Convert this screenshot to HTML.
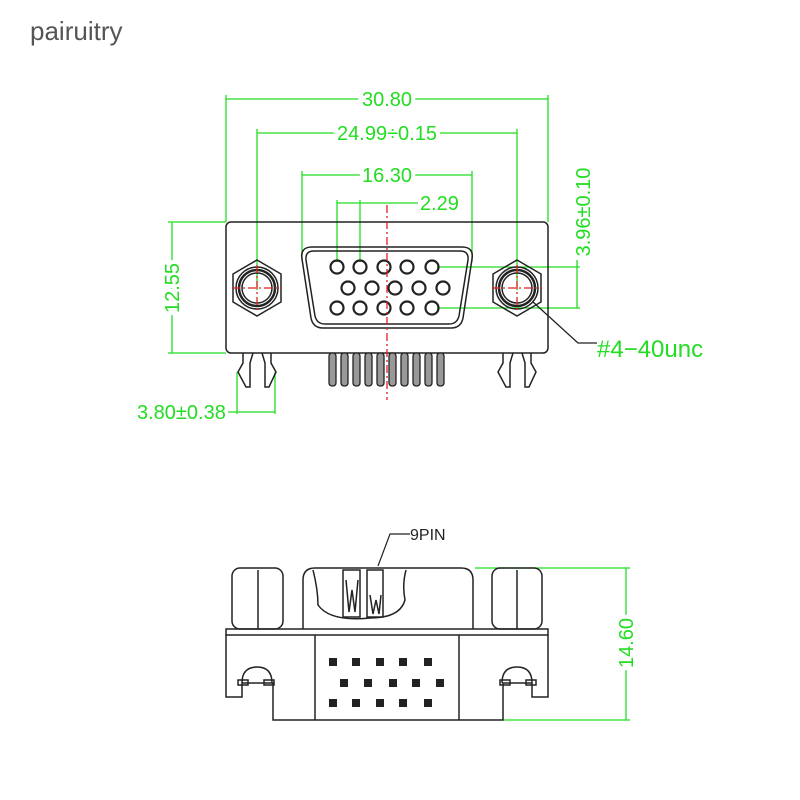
<!DOCTYPE html>
<html><head><meta charset="utf-8"><style>body{margin:0;background:#fff}svg{display:block}</style></head><body>
<svg width="800" height="800" viewBox="0 0 800 800" xmlns="http://www.w3.org/2000/svg" font-family="Liberation Sans, sans-serif">
<rect width="800" height="800" fill="#fff"/>
<text x="30" y="40" font-size="26" fill="#555">pairuitry</text>
<g stroke="#22dd22" stroke-width="1.3" fill="none">
<!-- 30.80 -->
<line x1="226" y1="99" x2="548" y2="99"/><line x1="226" y1="95" x2="226" y2="222"/><line x1="548" y1="95" x2="548" y2="222"/>
<!-- 24.99 -->
<line x1="257" y1="133" x2="517" y2="133"/><line x1="257" y1="129" x2="257" y2="290"/><line x1="517" y1="129" x2="517" y2="290"/>
<!-- 16.30 -->
<line x1="302" y1="175" x2="472" y2="175"/><line x1="302" y1="171" x2="302" y2="260"/><line x1="472" y1="171" x2="472" y2="262"/>
<!-- 2.29 -->
<line x1="337" y1="203" x2="418" y2="203"/><line x1="337" y1="200" x2="337" y2="262"/><line x1="360" y1="200" x2="360" y2="262"/>
<!-- 3.96 -->
<line x1="437" y1="267" x2="580" y2="267"/><line x1="437" y1="308" x2="580" y2="308"/><line x1="577" y1="260" x2="577" y2="308"/>
<!-- 12.55 -->
<line x1="168" y1="222" x2="226" y2="222"/><line x1="168" y1="353" x2="226" y2="353"/><line x1="172" y1="222" x2="172" y2="353"/>
<!-- 3.80 -->
<line x1="237" y1="372" x2="237" y2="414"/><line x1="275" y1="372" x2="275" y2="414"/><line x1="228" y1="412" x2="275" y2="412"/>
<!-- 14.60 -->
<line x1="475" y1="568" x2="630" y2="568"/><line x1="503" y1="720" x2="630" y2="720"/><line x1="626" y1="568" x2="626" y2="720"/>
</g>
<g fill="#22dd22" font-size="20">
<text x="387" y="106" text-anchor="middle" fill="#22dd22" style="paint-order:stroke" stroke="#fff" stroke-width="8">30.80</text>
<text x="387" y="140" text-anchor="middle" stroke="#fff" stroke-width="8" style="paint-order:stroke">24.99÷0.15</text>
<text x="387" y="182" text-anchor="middle" stroke="#fff" stroke-width="8" style="paint-order:stroke">16.30</text>
<text x="420" y="210" stroke="#fff" stroke-width="0">2.29</text>
<text transform="translate(590,212) rotate(-90)" text-anchor="middle" stroke="#fff" stroke-width="8" style="paint-order:stroke">3.96±0.10</text>
<text transform="translate(179,288) rotate(-90)" text-anchor="middle" stroke="#fff" stroke-width="8" style="paint-order:stroke">12.55</text>
<text x="137" y="419">3.80±0.38</text>
<text transform="translate(633,643) rotate(-90)" text-anchor="middle" stroke="#fff" stroke-width="8" style="paint-order:stroke">14.60</text>
<text x="597" y="357" font-size="24">#4−40unc</text>
</g>
<g stroke="#222" stroke-width="1.5" fill="none">
<!-- top view body -->
<rect x="226" y="222" width="322" height="131" rx="5"/>
<path d="M312 247 H462 Q474 247 472 259 L463 318 Q461 328 451 328 H323 Q313 328 311 318 L302 259 Q300 247 312 247Z"/>
<path d="M314 251 H460 Q469 251 468 260 L459 316 Q457 324 449 324 H325 Q317 324 315 316 L306 260 Q305 251 314 251Z"/>
<g stroke-width="2.2">
<circle cx="337" cy="267" r="6.5"/><circle cx="360" cy="267" r="6.5"/><circle cx="384" cy="267" r="6.5"/><circle cx="407" cy="267" r="6.5"/><circle cx="432" cy="267" r="6.5"/>
<circle cx="348" cy="288" r="6.5"/><circle cx="372" cy="288" r="6.5"/><circle cx="395" cy="288" r="6.5"/><circle cx="419" cy="288" r="6.5"/><circle cx="443" cy="288" r="6.5"/>
<circle cx="337" cy="308" r="6.5"/><circle cx="360" cy="308" r="6.5"/><circle cx="384" cy="308" r="6.5"/><circle cx="407" cy="308" r="6.5"/><circle cx="432" cy="308" r="6.5"/>
</g>
<polygon points="257,260 281,274 281,302 257,316 233,302 233,274"/>
<circle cx="257" cy="288" r="21"/><circle cx="257" cy="288" r="18" stroke-width="2.5"/><circle cx="257" cy="288" r="15"/>
<polygon points="517,260 541,274 541,302 517,316 493,302 493,274"/>
<circle cx="517" cy="288" r="21"/><circle cx="517" cy="288" r="18" stroke-width="2.5"/><circle cx="517" cy="288" r="15"/>
<polyline points="533,302 578,343 597,343" stroke-width="1.3"/>
<!-- legs -->
<path d="M243 353 V363 L238 372 L246 387 H250 L250 363 L253 353"/>
<path d="M262 353 L265 363 V387 H269 L276 372 L271 363 V353"/>
<path d="M503 353 V363 L498 372 L506 387 H510 L510 363 L513 353"/>
<path d="M522 353 L525 363 V387 H529 L536 372 L531 363 V353"/>
</g>
<g fill="#999" stroke="#222" stroke-width="1.3">
<rect x="329" y="353" width="7" height="33" rx="3"/><rect x="341" y="353" width="7" height="33" rx="3"/><rect x="353" y="353" width="7" height="33" rx="3"/><rect x="365" y="353" width="7" height="33" rx="3"/><rect x="377" y="353" width="7" height="33" rx="3"/><rect x="389" y="353" width="7" height="33" rx="3"/><rect x="401" y="353" width="7" height="33" rx="3"/><rect x="413" y="353" width="7" height="33" rx="3"/><rect x="425" y="353" width="7" height="33" rx="3"/><rect x="437" y="353" width="7" height="33" rx="3"/>
</g>
<g stroke="#dd2222" stroke-width="1.3" stroke-dasharray="8,3,2,3" fill="none">
<line x1="387" y1="205" x2="387" y2="400"/>
<line x1="232" y1="288" x2="282" y2="288"/><line x1="257" y1="265" x2="257" y2="312"/>
<line x1="492" y1="288" x2="542" y2="288"/><line x1="517" y1="265" x2="517" y2="312"/>
</g>
<!-- bottom view -->
<g stroke="#222" stroke-width="1.5" fill="none">
<rect x="232" y="568" width="51" height="61" rx="8"/><line x1="258" y1="570" x2="258" y2="629"/>
<rect x="492" y="568" width="50" height="61" rx="8"/><line x1="517" y1="570" x2="517" y2="629"/>
<path d="M303 629 V580 Q303 568 315 568 H461 Q473 568 473 580 V629"/>
<path d="M313 570 Q318 590 318 605 Q330 622 370 618 Q400 618 405 600 Q402 585 406 570"/>
<rect x="343" y="570" width="17" height="47"/><rect x="367" y="570" width="16" height="47"/>
<path d="M346 580 L349 612 L352 590 L355 612 L358 580 M370 595 L373 614 L376 600 L379 614 L381 595"/>
<rect x="226" y="629" width="322" height="6"/>
<path d="M226 635 V697 H242 V683 H273 V720 H503 V683 H532 V697 H548 V635"/>
<line x1="315" y1="635" x2="315" y2="720"/><line x1="459" y1="635" x2="459" y2="720"/>
<path d="M242 683 Q242 667 257 667 Q272 667 272 683"/><rect x="238" y="680" width="10" height="5"/><rect x="264" y="680" width="10" height="5"/>
<path d="M502 683 Q502 667 517 667 Q532 667 532 683"/><rect x="500" y="680" width="10" height="5"/><rect x="526" y="680" width="10" height="5"/>
<polyline points="378,566 390,534 410,534" stroke-width="1.2"/>
</g>
<g fill="#222">
<rect x="329" y="658" width="8" height="8"/><rect x="352" y="658" width="8" height="8"/><rect x="376" y="658" width="8" height="8"/><rect x="399" y="658" width="8" height="8"/><rect x="424" y="658" width="8" height="8"/>
<rect x="340" y="679" width="8" height="8"/><rect x="364" y="679" width="8" height="8"/><rect x="389" y="679" width="8" height="8"/><rect x="412" y="679" width="8" height="8"/><rect x="436" y="679" width="8" height="8"/>
<rect x="329" y="699" width="8" height="8"/><rect x="352" y="699" width="8" height="8"/><rect x="376" y="699" width="8" height="8"/><rect x="399" y="699" width="8" height="8"/><rect x="424" y="699" width="8" height="8"/>
</g>
<text x="410" y="540" font-size="16" fill="#222">9PIN</text>
</svg>
</body></html>
